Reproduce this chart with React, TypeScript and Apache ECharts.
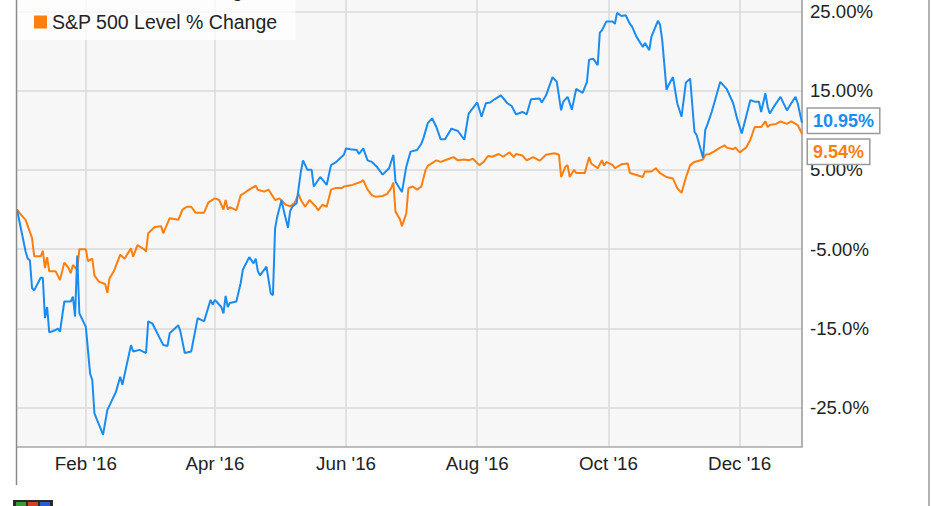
import React, { useEffect, useRef } from "react";
import * as echarts from "echarts";

const seriesNames = ["AMZN Price % Change", "S&P 500 Level % Change"];
const seriesColors = ["#1a8cf0", "#ff7f0e"];

const amznDates = [
  "2015-12-31", "2016-01-04", "2016-01-05", "2016-01-06", "2016-01-07", "2016-01-08", "2016-01-11", "2016-01-12",
  "2016-01-13", "2016-01-14", "2016-01-15", "2016-01-18", "2016-01-19", "2016-01-20", "2016-01-22", "2016-01-25",
  "2016-01-26", "2016-01-27", "2016-01-28", "2016-01-29", "2016-02-01", "2016-02-03", "2016-02-04", "2016-02-05",
  "2016-02-09", "2016-02-11", "2016-02-15", "2016-02-17", "2016-02-18", "2016-02-22", "2016-02-23", "2016-02-26",
  "2016-02-29", "2016-03-01", "2016-03-03", "2016-03-08", "2016-03-10", "2016-03-11", "2016-03-15", "2016-03-16",
  "2016-03-18", "2016-03-21", "2016-03-24", "2016-03-27", "2016-03-30", "2016-03-31", "2016-04-01", "2016-04-04",
  "2016-04-05", "2016-04-06", "2016-04-07", "2016-04-08", "2016-04-11", "2016-04-13", "2016-04-14", "2016-04-17",
  "2016-04-19", "2016-04-20", "2016-04-21", "2016-04-22", "2016-04-25", "2016-04-27", "2016-04-28", "2016-04-29",
  "2016-04-30", "2016-05-02", "2016-05-03", "2016-05-05", "2016-05-06", "2016-05-07", "2016-05-09", "2016-05-11",
  "2016-05-12", "2016-05-14", "2016-05-16", "2016-05-17", "2016-05-20", "2016-05-23", "2016-05-25", "2016-05-27",
  "2016-05-31", "2016-06-01", "2016-06-03", "2016-06-06", "2016-06-07", "2016-06-09", "2016-06-11", "2016-06-13",
  "2016-06-15", "2016-06-18", "2016-06-21", "2016-06-23", "2016-06-24", "2016-06-27", "2016-06-29", "2016-07-01",
  "2016-07-04", "2016-07-06", "2016-07-07", "2016-07-09", "2016-07-11", "2016-07-13", "2016-07-15", "2016-07-17",
  "2016-07-20", "2016-07-23", "2016-07-26", "2016-07-28", "2016-08-01", "2016-08-03", "2016-08-05", "2016-08-07",
  "2016-08-09", "2016-08-12", "2016-08-15", "2016-08-17", "2016-08-19", "2016-08-22", "2016-08-24", "2016-08-26",
  "2016-08-30", "2016-08-31", "2016-09-02", "2016-09-05", "2016-09-07", "2016-09-09", "2016-09-10", "2016-09-12",
  "2016-09-14", "2016-09-16", "2016-09-19", "2016-09-21", "2016-09-22", "2016-09-24", "2016-09-26", "2016-09-27",
  "2016-09-28", "2016-09-30", "2016-10-03", "2016-10-04", "2016-10-05", "2016-10-07", "2016-10-09", "2016-10-11",
  "2016-10-12", "2016-10-14", "2016-10-17", "2016-10-18", "2016-10-20", "2016-10-21", "2016-10-24", "2016-10-25",
  "2016-10-26", "2016-10-28", "2016-10-29", "2016-10-31", "2016-11-02", "2016-11-04", "2016-11-06", "2016-11-08",
  "2016-11-10", "2016-11-11", "2016-11-14", "2016-11-15", "2016-11-16", "2016-11-18", "2016-11-20", "2016-11-22",
  "2016-11-24", "2016-11-25", "2016-11-28", "2016-11-30", "2016-12-02", "2016-12-04", "2016-12-06", "2016-12-08",
  "2016-12-10", "2016-12-11", "2016-12-13", "2016-12-14", "2016-12-15", "2016-12-17", "2016-12-20", "2016-12-23",
  "2016-12-25", "2016-12-27", "2016-12-28", "2016-12-30",
];
const amznValues = [
  0, -5.3, -6.2, -6.4, -9.9, -10.2, -8.6, -8.6,
  -13.7, -12.3, -15.5, -15.2, -15.0, -15.4, -11.6, -11.6,
  -11.0, -13.5, -5.8, -13.1, -14.8, -20.7, -21.5, -25.7,
  -28.4, -25.3, -23.0, -21.1, -22.1, -17.1, -17.9, -17.7,
  -18.1, -14.1, -14.4, -17.1, -17.2, -15.6, -14.6, -15.4,
  -18.1, -17.9, -13.7, -14.1, -11.4, -12.0, -11.4, -12.3,
  -13.1, -10.9, -12.3, -11.8, -11.6, -9.3, -7.6, -6.0,
  -6.8, -6.2, -7.8, -8.3, -7.2, -10.6, -10.8, -2.4,
  -0.9, 1.2, -0.1, -2.3, -0.2, 0.35, 0.8, 4.8,
  6.2, 5.0, 5.0, 2.9, 4.1, 3.1, 5.6, 5.9,
  6.9, 7.7, 7.6, 7.5, 7.0, 7.7, 6.2, 6.0,
  5.5, 4.4, 5.2, 6.9, 3.5, 2.2, 5.4, 7.3,
  7.5, 8.3, 9.0, 10.9, 11.5, 10.4, 8.85, 8.85,
  10.2, 9.9, 8.8, 12.1, 13.5, 11.7, 13.4, 13.5,
  13.9, 14.4, 13.4, 13.05, 12.0, 12.3, 12.0, 13.9,
  14.0, 13.5, 14.4, 16.7, 16.1, 12.5, 13.6, 14.2,
  12.6, 15.2, 14.7, 16.1, 18.9, 19.0, 18.2, 22.3,
  22.6, 23.7, 23.7, 23.4, 24.8, 24.4, 24.5, 23.4,
  23.05, 21.8, 20.5, 21.0, 20.1, 21.8, 23.8, 23.3,
  21.4, 15.1, 15.7, 16.7, 13.4, 11.7, 16.0, 16.5,
  9.8, 9.4, 6.5, 10.0, 10.7, 12.3, 14.2, 16.1,
  15.5, 15.2, 13.4, 11.3, 9.6, 11.7, 13.8, 13.6,
  13.6, 12.3, 14.65, 13.0, 12.1, 13.0, 14.2, 12.5,
  13.4, 14.2, 13.4, 10.95,
];

const spxDates = [
  "2015-12-31", "2016-01-02", "2016-01-04", "2016-01-07", "2016-01-08", "2016-01-11", "2016-01-12", "2016-01-13",
  "2016-01-14", "2016-01-15", "2016-01-18", "2016-01-20", "2016-01-22", "2016-01-24", "2016-01-25", "2016-01-26",
  "2016-01-28", "2016-01-29", "2016-02-01", "2016-02-02", "2016-02-04", "2016-02-05", "2016-02-07", "2016-02-10",
  "2016-02-11", "2016-02-12", "2016-02-14", "2016-02-17", "2016-02-19", "2016-02-22", "2016-02-23", "2016-02-25",
  "2016-02-28", "2016-02-29", "2016-03-01", "2016-03-04", "2016-03-07", "2016-03-08", "2016-03-11", "2016-03-13",
  "2016-03-15", "2016-03-17", "2016-03-19", "2016-03-21", "2016-03-23", "2016-03-27", "2016-03-29", "2016-04-01",
  "2016-04-03", "2016-04-05", "2016-04-06", "2016-04-07", "2016-04-08", "2016-04-11", "2016-04-13", "2016-04-14",
  "2016-04-17", "2016-04-20", "2016-04-21", "2016-04-24", "2016-04-26", "2016-04-29", "2016-05-01", "2016-05-04",
  "2016-05-06", "2016-05-08", "2016-05-10", "2016-05-11", "2016-05-13", "2016-05-15", "2016-05-18", "2016-05-19",
  "2016-05-21", "2016-05-23", "2016-05-25", "2016-05-27", "2016-05-30", "2016-05-31", "2016-06-04", "2016-06-08",
  "2016-06-09", "2016-06-11", "2016-06-13", "2016-06-15", "2016-06-18", "2016-06-20", "2016-06-22", "2016-06-23",
  "2016-06-24", "2016-06-26", "2016-06-27", "2016-06-29", "2016-06-30", "2016-07-02", "2016-07-04", "2016-07-06",
  "2016-07-08", "2016-07-09", "2016-07-13", "2016-07-15", "2016-07-18", "2016-07-21", "2016-07-23", "2016-07-26",
  "2016-07-28", "2016-07-30", "2016-08-02", "2016-08-04", "2016-08-06", "2016-08-08", "2016-08-11", "2016-08-13",
  "2016-08-16", "2016-08-18", "2016-08-19", "2016-08-22", "2016-08-24", "2016-08-27", "2016-08-30", "2016-09-02",
  "2016-09-04", "2016-09-06", "2016-09-08", "2016-09-09", "2016-09-11", "2016-09-12", "2016-09-13", "2016-09-15",
  "2016-09-16", "2016-09-20", "2016-09-22", "2016-09-23", "2016-09-26", "2016-09-28", "2016-09-29", "2016-09-30",
  "2016-10-03", "2016-10-04", "2016-10-07", "2016-10-10", "2016-10-11", "2016-10-14", "2016-10-17", "2016-10-18",
  "2016-10-21", "2016-10-23", "2016-10-25", "2016-10-28", "2016-10-31", "2016-11-02", "2016-11-04", "2016-11-06",
  "2016-11-08", "2016-11-10", "2016-11-14", "2016-11-15", "2016-11-17", "2016-11-19", "2016-11-22", "2016-11-24",
  "2016-11-25", "2016-11-28", "2016-11-29", "2016-12-01", "2016-12-04", "2016-12-06", "2016-12-08", "2016-12-11",
  "2016-12-13", "2016-12-14", "2016-12-15", "2016-12-18", "2016-12-20", "2016-12-23", "2016-12-25", "2016-12-28",
  "2016-12-30",
];
const spxValues = [
  0, -0.7, -1.3, -3.6, -5.9, -5.9, -5.2, -7.4,
  -6.0, -7.8, -7.8, -8.9, -6.7, -7.4, -8.05, -7.0,
  -7.6, -5.0, -5.0, -6.5, -6.2, -8.3, -9.1, -9.4,
  -10.5, -8.7, -7.8, -5.7, -6.2, -4.9, -5.95, -4.5,
  -5.0, -5.3, -3.0, -2.2, -2.1, -3.0, -1.1, -1.2,
  -1.3, 0.0, 0.35, 0.35, -0.4, -0.4, 0.9, 1.4,
  1.2, 0.0, 1.2, 0.0, 0.3, -0.1, 1.8, 1.95,
  2.5, 3.0, 2.5, 2.25, 2.5, 1.2, 1.4, 0.6,
  0.4, 0.8, 1.95, 1.2, 0.35, 1.2, 0.35, -0.1,
  0.6, 0.35, 2.5, 2.7, 2.7, 2.9, 3.1, 3.5,
  3.7, 2.5, 1.8, 1.6, 1.7, 1.95, 2.7, 3.4,
  -0.3, -1.2, -2.1, -0.5, 2.7, 2.9, 2.5, 2.9,
  5.0, 5.5, 6.2, 6.0, 6.3, 6.6, 6.2, 6.3,
  6.2, 6.4, 5.6, 6.0, 6.75, 6.65, 7.0, 6.65,
  7.2, 6.6, 7.0, 6.8, 6.2, 6.6, 6.15, 6.9,
  7.0, 7.1, 6.9, 4.1, 5.4, 5.6, 4.1, 5.0,
  4.6, 4.6, 6.6, 5.8, 5.2, 6.2, 5.5, 6.0,
  5.6, 5.2, 5.7, 5.8, 4.6, 4.35, 4.1, 4.8,
  4.8, 5.2, 4.6, 4.1, 3.9, 2.7, 2.1, 4.0,
  5.6, 6.0, 6.3, 6.9, 7.0, 7.3, 7.8, 8.1,
  7.8, 7.6, 7.8, 7.2, 7.8, 8.8, 10.4, 10.4,
  11.1, 10.4, 10.65, 10.8, 11.1, 10.8, 11.1, 10.65,
  9.54,
];

const xRange = ["2015-12-31", "2016-12-30"];
const xTickDates = ["2016-02-01", "2016-04-01", "2016-06-01", "2016-08-01", "2016-10-01", "2016-12-01"];
const xTickLabels = ["Feb '16", "Apr '16", "Jun '16", "Aug '16", "Oct '16", "Dec '16"];
const yTickValues = [-25, -15, -5, 5, 15, 25];
const yTickLabels = ["-25.0%", "-15.0%", "-5.00%", "5.00%", "15.00%", "25.00%"];

const FONT = "'Liberation Sans', Arial, sans-serif";

const ts = (s: string) => new Date(`${s}T00:00:00`).getTime();

export default function App() {
  const ref = useRef<HTMLDivElement>(null);

  useEffect(() => {
    if (!ref.current) return;
    const chart = echarts.init(ref.current, null, { renderer: "svg" });

    const zip = (ds: string[], vs: number[]) => ds.map((d, i) => [ts(d), vs[i]]);
    const tickTs = xTickDates.map(ts);

    const endLabel = (color: string, offsetY: number) => ({
      show: true,
      formatter: (p: any) => `${Number(p.value[1]).toFixed(2)}%`,
      color,
      fontFamily: FONT,
      fontSize: 18,
      fontWeight: "bold",
      backgroundColor: "#ffffff",
      borderColor: "#9a9a9a",
      borderWidth: 1.5,
      padding: [4, 5, 2, 5],
      distance: 6,
      offset: [0, offsetY],
    });

    chart.setOption({
      animation: false,
      backgroundColor: "#ffffff",
      textStyle: { fontFamily: FONT },
      grid: {
        left: 17,
        right: 129,
        top: 0,
        bottom: 59,
        show: true,
        backgroundColor: "#f7f7f7",
        borderWidth: 0,
        containLabel: false,
      },
      legend: {
        orient: "vertical",
        left: 17,
        top: -25,
        padding: [5, 18, 8, 17],
        itemGap: 12,
        itemWidth: 13,
        itemHeight: 13,
        icon: "rect",
        backgroundColor: "rgba(255,255,255,0.72)",
        textStyle: { color: "#222", fontSize: 19.5, fontFamily: FONT },
        data: seriesNames,
      },
      xAxis: {
        type: "value",
        min: ts(xRange[0]),
        max: ts(xRange[1]),
        axisLine: { show: true, onZero: false, lineStyle: { color: "#a8a8a8", width: 1.5 } },
        axisTick: { show: false, customValues: tickTs },
        splitLine: { show: true, lineStyle: { color: "#dadada", width: 1.5 } },
        axisLabel: {
          customValues: tickTs,
          color: "#222",
          fontSize: 18.8,
          fontFamily: FONT,
          margin: 7,
          formatter: (v: number) => {
            let best = 0;
            for (let i = 1; i < tickTs.length; i++) {
              if (Math.abs(tickTs[i] - v) < Math.abs(tickTs[best] - v)) best = i;
            }
            return xTickLabels[best];
          },
        },
      },
      yAxis: {
        type: "value",
        position: "right",
        min: -29.95,
        max: 26.42,
        axisLine: { show: true, lineStyle: { color: "#999", width: 1.5 } },
        axisTick: { show: false, customValues: yTickValues },
        splitLine: { show: true, lineStyle: { color: "#dadada", width: 1.5 } },
        axisLabel: {
          customValues: yTickValues,
          color: "#222",
          fontSize: 18.6,
          fontFamily: FONT,
          margin: 8,
          formatter: (v: number) => {
            const i = yTickValues.indexOf(Math.round(v));
            return i >= 0 ? yTickLabels[i] : "";
          },
        },
      },
      series: [
        {
          name: seriesNames[0],
          type: "line",
          data: zip(amznDates, amznValues),
          showSymbol: false,
          color: seriesColors[0],
          lineStyle: { width: 2, color: seriesColors[0] },
          endLabel: endLabel(seriesColors[0], -2),
          z: 3,
        },
        {
          name: seriesNames[1],
          type: "line",
          data: zip(spxDates, spxValues),
          showSymbol: false,
          color: seriesColors[1],
          lineStyle: { width: 2, color: seriesColors[1] },
          endLabel: endLabel(seriesColors[1], 18),
          z: 2,
        },
      ],
      graphic: [
        {
          type: "line",
          shape: { x1: 16.5, y1: 0, x2: 16.5, y2: 485 },
          style: { stroke: "#8a8a8a", lineWidth: 1.5 },
          z: 10,
        },
        {
          type: "line",
          shape: { x1: 929, y1: 0, x2: 929, y2: 506 },
          style: { stroke: "#9a9a9a", lineWidth: 1.5 },
          z: 10,
        },
        {
          type: "group",
          left: 13,
          top: 500,
          children: [
            { type: "rect", shape: { x: 0, y: 0, width: 40, height: 8 }, style: { fill: "#2a2a2a" } },
            { type: "rect", shape: { x: 3, y: 2, width: 10, height: 6 }, style: { fill: "#3a9a3a" } },
            { type: "rect", shape: { x: 15, y: 2, width: 10, height: 6 }, style: { fill: "#d0402a" } },
            { type: "rect", shape: { x: 27, y: 2, width: 10, height: 6 }, style: { fill: "#2a5ad0" } },
          ],
        },
      ],
    });

    return () => chart.dispose();
  }, []);

  return (
    <div
      ref={ref}
      style={{ position: "fixed", left: 0, top: 0, width: 931, height: 506, background: "#fff" }}
    />
  );
}
